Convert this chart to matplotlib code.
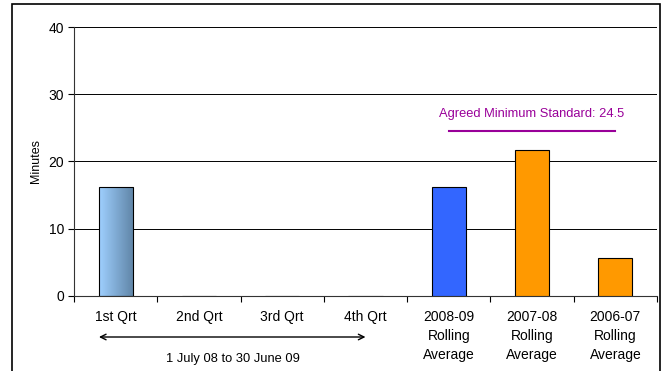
import numpy as np
import matplotlib
matplotlib.use("Agg")
import matplotlib.pyplot as plt
from matplotlib.patches import Rectangle
from matplotlib.colors import LinearSegmentedColormap

plt.rcParams['font.family'] = ['Liberation Sans', 'DejaVu Sans']

categories = ["1st Qrt", "2nd Qrt", "3rd Qrt", "4th Qrt",
              "2008-09\nRolling\nAverage", "2007-08\nRolling\nAverage",
              "2006-07\nRolling\nAverage"]
values = [16.2, np.nan, np.nan, np.nan, 16.2, 21.7, 5.6]
bar_colors = ["#99CCFF", "#99CCFF", "#99CCFF", "#99CCFF", "#3366FF", "#FF9900", "#FF9900"]
standard = 24.5
standard_label = "Agreed Minimum Standard: 24.5"
period_label = "1 July 08 to 30 June 09"
y_ticks = [0, 10, 20, 30, 40]

fig = plt.figure(figsize=(6.7, 3.71), dpi=100)
ax = fig.add_axes([0.1104, 0.2022, 0.8702, 0.7250])

x = np.arange(len(categories))
width = 0.41
bars = ax.bar(x, np.nan_to_num(values), width=width, color=bar_colors,
              edgecolor="black", linewidth=0.8, zorder=3)

# Quarterly bars get a horizontal light-to-steel gradient fill
grad_cmap = LinearSegmentedColormap.from_list("qgrad", ["#9FD0FF", "#5F84A6"])
grad = np.linspace(0, 1, 256).reshape(1, -1)
for i in range(4):
    if np.isnan(values[i]):
        continue
    b = bars[i]
    b.set_facecolor("none")
    ax.imshow(grad, cmap=grad_cmap, aspect="auto", zorder=2.5,
              extent=[b.get_x(), b.get_x() + b.get_width(), 0, b.get_height()])

ax.set_xlim(-0.5, len(categories) - 0.5)
ax.set_ylim(0, 40)

ax.set_yticks(y_ticks)
ax.set_yticklabels([str(t) for t in y_ticks], fontsize=10)
ax.yaxis.grid(True, color="black", linewidth=0.7)
ax.set_axisbelow(True)

ax.set_xticks(x)
ax.set_xticklabels(categories, fontsize=10, linespacing=1.45)
ax.set_xticks(np.arange(-0.5, len(categories)), minor=True)
ax.tick_params(axis="x", which="major", length=0, pad=10)
ax.tick_params(axis="x", which="minor", length=4, width=0.8, direction="out")
ax.tick_params(axis="y", length=4, width=0.8, direction="out", pad=3)

for s in ["top", "right"]:
    ax.spines[s].set_visible(False)
ax.spines["left"].set_linewidth(0.8)
ax.spines["bottom"].set_linewidth(0.8)
ax.spines["left"].set_color("#333333")
ax.spines["bottom"].set_color("#333333")

ax.set_ylabel("Minutes", fontsize=9, labelpad=5)

# Agreed minimum standard marker across the rolling averages
ax.plot([4, 6], [standard, standard], color="#990099", linewidth=1.5, zorder=4)
ax.text(5, standard + 2.5, standard_label, color="#990099", fontsize=9.3,
        ha="center", va="center")

# Period arrow beneath the quarterly labels
ax.annotate("", xy=(-0.2, -6.1), xytext=(3.0, -6.1), xycoords="data",
            textcoords="data", annotation_clip=False,
            arrowprops=dict(arrowstyle="<->", color="black", lw=1.0,
                            shrinkA=0, shrinkB=0))
ax.text(1.41, -9.4, period_label, fontsize=9.3, ha="center", va="center",
        clip_on=False)

# Outer frame around the chart
fig.add_artist(Rectangle((12 / 670, -0.05), 648 / 670, 1 - 4 / 371 + 0.05,
                         transform=fig.transFigure, fill=False,
                         edgecolor="black", linewidth=1.2))

fig.savefig("out.png", dpi=100)
